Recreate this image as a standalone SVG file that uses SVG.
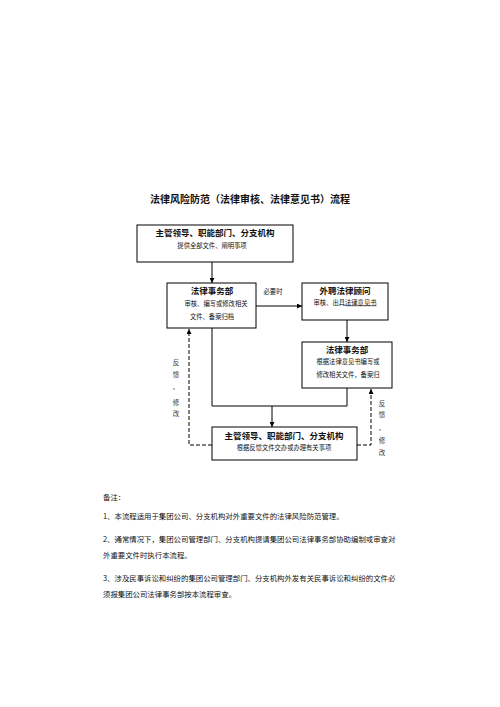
<svg xmlns="http://www.w3.org/2000/svg" width="500" height="707" viewBox="0 0 500 707">
<style>
text{font-family:"Noto Sans CJK SC","Noto Sans",sans-serif;fill:#111}
.t{font-size:8.5px;font-weight:bold;text-anchor:middle}
.s{font-size:6.3px;text-anchor:middle}
.b{fill:#fff;stroke:#000;stroke-width:1}
.l{fill:none;stroke:#000;stroke-width:1}
.d{fill:none;stroke:#000;stroke-width:1;stroke-dasharray:4,2}
.n{font-size:7.4px}
.v{font-size:6.5px;text-anchor:middle;fill:#333}
</style>
<defs>
<marker id="a" viewBox="0 0 6 6" refX="6" refY="3" markerWidth="5" markerHeight="5" orient="auto" markerUnits="userSpaceOnUse">
<path d="M0,0L6,3L0,6Z" fill="#000"/>
</marker>
</defs>
<rect width="500" height="707" fill="#fff"/>
<text x="250" y="202.5" style="font-size:10px;font-weight:bold;text-anchor:middle">法律风险防范（法律审核、法律意见书）流程</text>
<g id="connectors">
<line class="l" x1="212" y1="262" x2="212" y2="283" marker-end="url(#a)"/>
<line class="l" x1="256" y1="306" x2="302" y2="306" marker-end="url(#a)"/>
<text x="273" y="294" style="font-size:6.3px;text-anchor:middle">必要时</text>
<line class="l" x1="347" y1="320" x2="347" y2="342" marker-end="url(#a)"/>
<polyline class="l" points="212,328 212,406 347,406 347,388"/>
<line class="l" x1="272" y1="406" x2="272" y2="427" marker-end="url(#a)"/>
<polyline class="d" points="212,445 189,445 189,329" marker-end="url(#a)"/>
<polyline class="d" points="357,445 371,445 371,389" marker-end="url(#a)"/>
<text class="v" x="176" y="364.5">反</text>
<text class="v" x="176" y="376.5">馈</text>
<text class="v" x="176" y="389">、</text>
<text class="v" x="176" y="404.5">修</text>
<text class="v" x="176" y="415.5">改</text>
<text class="v" x="382" y="405.5">反</text>
<text class="v" x="382" y="416.5">馈</text>
<text class="v" x="382" y="430">、</text>
<text class="v" x="382" y="442.5">修</text>
<text class="v" x="382" y="454.5">改</text>
</g>
<g id="n1">
<rect class="b" x="137" y="225" width="156" height="37"/>
<text class="t" x="215" y="235.5">主管领导、职能部门、分支机构</text>
<text class="s" x="212" y="247.5">提供全部文件、阐明事项</text>
</g>
<g id="n2">
<rect class="b" x="167" y="283" width="89" height="45"/>
<text class="t" x="212" y="293.5">法律事务部</text>
<text class="s" x="216" y="305.5">审核、编写或修改相关</text>
<text class="s" x="212" y="318.5">文件、备案归档</text>
</g>
<g id="n3">
<rect class="b" x="302" y="283" width="86" height="37"/>
<text class="t" x="345" y="293.5">外聘法律顾问</text>
<text class="s" x="345" y="304.5">审核、出具<tspan text-decoration="underline">法律意见书</tspan></text>
</g>
<g id="n4">
<rect class="b" x="302" y="342" width="90" height="46"/>
<text class="t" x="347" y="352.5">法律事务部</text>
<text class="s" x="348" y="363.5">根据法律意见书编写或</text>
<text class="s" x="348" y="377">修改相关文件，备案归</text>
</g>
<g id="n5">
<rect class="b" x="212" y="427" width="145" height="33"/>
<text class="t" x="284" y="438.5">主管领导、职能部门、分支机构</text>
<text class="s" x="284" y="450">根据反馈文件交办或办理有关事项</text>
</g>
<g id="notes">
<text class="n" x="103" y="500">备注：</text>
<text class="n" x="103" y="519">1、本流程适用于集团公司、分支机构对外重要文件的法律风险防范管理。</text>
<text class="n" x="103" y="542">2、通常情况下，集团公司管理部门、分支机构提请集团公司法律事务部协助编制或审查对</text>
<text class="n" x="103" y="558">外重要文件时执行本流程。</text>
<text class="n" x="103" y="581">3、涉及民事诉讼和纠纷的集团公司管理部门、分支机构外发有关民事诉讼和纠纷的文件必</text>
<text class="n" x="103" y="597">须报集团公司法律事务部按本流程审查。</text>
</g>
</svg>
